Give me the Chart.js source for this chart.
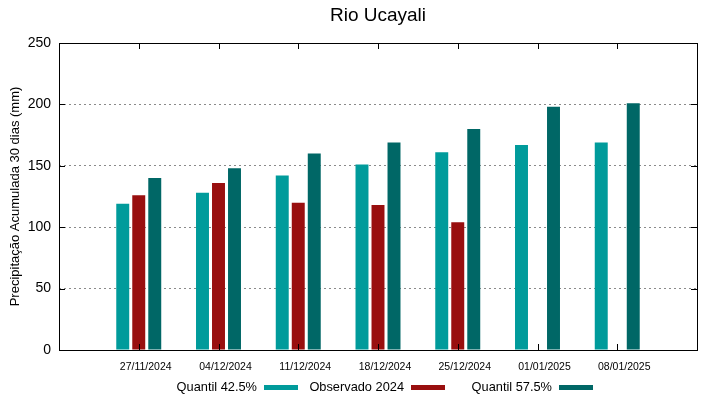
<!DOCTYPE html>
<html>
<head>
<meta charset="utf-8">
<script src="https://cdn.jsdelivr.net/npm/chart.js@4.4.1/dist/chart.umd.min.js"></script>
<style>
  body { margin: 0; background: #fff; }
  #wrap { width: 719px; height: 399px; }
</style>
</head>
<body>
<div id="wrap"><canvas id="chart" width="719" height="399"></canvas></div>
<script>
// weeks shown on the x axis
const dates = ['27/11/2024', '04/12/2024', '11/12/2024', '18/12/2024', '25/12/2024', '01/01/2025', '08/01/2025'];
// accumulated 30-day rainfall (mm)
const quantil425 = [119, 128, 142, 151, 161, 167, 169];
const observado = [126, 136, 120, 118, 104, null, null];
const quantil575 = [140, 148, 160, 169, 180, 198, 201];
const yTicks = [0, 50, 100, 150, 200, 250];

const colTeal = '#009b9b';
const colRed = '#990f0f';
const colDark = '#006766';
const font = 'Liberation Sans, Arial, sans-serif';

// pad one empty slot on each side, like the original plot
const pad = arr => [null, ...arr, null];
const labels = ['', ...dates, ''];

// frame, inward tick marks, title and legend
const framePlugin = {
    id: 'frame',
    afterDraw(chart) {
        const ctx = chart.ctx;
        const a = chart.chartArea;
        const x = chart.scales.x, y = chart.scales.y;
        ctx.save();
        ctx.strokeStyle = '#000';
        ctx.lineWidth = 1;
        ctx.strokeRect(Math.round(a.left) + 0.5, Math.round(a.top) + 0.5,
            Math.round(a.right - a.left), Math.round(a.bottom - a.top));
        ctx.beginPath();
        yTicks.forEach(v => {
            const py = Math.round(y.getPixelForValue(v)) + 0.5;
            ctx.moveTo(a.left, py); ctx.lineTo(a.left + 6, py);
            ctx.moveTo(a.right, py); ctx.lineTo(a.right - 6, py);
        });
        dates.forEach((d, i) => {
            const px = Math.round(x.getPixelForValue(i + 1)) + 0.5;
            ctx.moveTo(px, a.top); ctx.lineTo(px, a.top + 6);
            ctx.moveTo(px, a.bottom); ctx.lineTo(px, a.bottom - 6);
        });
        ctx.stroke();

        // title
        ctx.fillStyle = '#000';
        ctx.font = '19px ' + font;
        ctx.textAlign = 'center';
        ctx.textBaseline = 'middle';
        ctx.fillText('Rio Ucayali', (a.left + a.right) / 2, 16);

        // legend: text then coloured swatch
        const items = [
            { text: 'Quantil 42.5%', color: colTeal, x: 257 },
            { text: 'Observado 2024', color: colRed, x: 404 },
            { text: 'Quantil 57.5%', color: colDark, x: 552 }
        ];
        ctx.font = '12.8px ' + font;
        ctx.textAlign = 'right';
        items.forEach(it => {
            ctx.fillStyle = '#000';
            ctx.fillText(it.text, it.x, 387);
            ctx.fillStyle = it.color;
            ctx.fillRect(it.x + 7, 385, 34, 5);
        });
        ctx.restore();
    }
};

new Chart(document.getElementById('chart'), {
    type: 'bar',
    data: {
        labels: labels,
        datasets: [
            { label: 'Quantil 42.5%', data: pad(quantil425), backgroundColor: colTeal },
            { label: 'Observado 2024', data: pad(observado), backgroundColor: colRed },
            { label: 'Quantil 57.5%', data: pad(quantil575), backgroundColor: colDark }
        ]
    },
    options: {
        responsive: false,
        animation: false,
        layout: { padding: { top: 43, right: 22, left: 0, bottom: 0 } },
        categoryPercentage: 0.602,
        barPercentage: 0.81,
        plugins: {
            legend: { display: false },
            title: { display: false },
            tooltip: { enabled: false }
        },
        scales: {
            x: {
                offset: false,
                grid: { display: false, drawTicks: false },
                border: { display: false },
                ticks: {
                    autoSkip: false,
                    maxRotation: 0,
                    padding: 11,
                    labelOffset: 7,
                    color: '#000',
                    font: { family: font, size: 10.5 }
                },
                afterFit: s => { s.height = 49; }
            },
            y: {
                min: 0,
                max: 250,
                afterBuildTicks: s => { s.ticks = yTicks.map(v => ({ value: v })); },
                grid: { color: '#8a8a8a', lineWidth: 1, drawTicks: false },
                border: { display: false, dash: [2, 3] },
                ticks: {
                    padding: 8,
                    color: '#000',
                    font: { family: font, size: 14 }
                },
                title: {
                    display: true,
                    text: 'Precipitação Acumulada 30 dias (mm)',
                    color: '#000',
                    font: { family: font, size: 13 },
                    padding: { top: 8, bottom: 0 }
                },
                afterFit: s => { s.width = 59; }
            }
        }
    },
    plugins: [framePlugin]
});
</script>
</body>
</html>
